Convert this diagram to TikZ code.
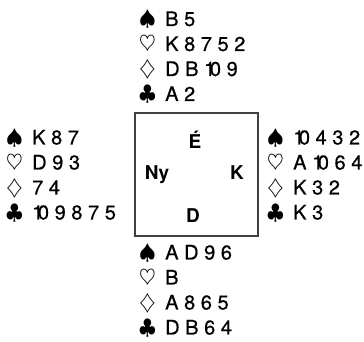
\RequirePackage{fix-cm}
\documentclass[tikz,border=0pt]{standalone}
\usepackage{fontspec}
\setmainfont{TeX Gyre Heros}[LetterSpace=28, FakeBold=0.6]
\newfontfamily\seatfont{TeX Gyre Heros}
\newcommand\suit[1]{\makebox[26pt][l]{\fontsize{21.5}{22}\selectfont$#1$}}
\newcommand\ten{1\kern-0.27em 0}
\begin{document}
\begin{tikzpicture}
 [x=1pt, y=1pt,
 cardrow/.style={anchor=base west, inner sep=0pt, text=black, font=\fontsize{20}{22}\selectfont},
 seatlabel/.style={anchor=base, inner sep=0pt, text=black, font=\seatfont\bfseries\fontsize{19}{22}\selectfont},
 tablebox/.style={rectangle, draw=black!75, line width=1.2pt, minimum width=123pt, minimum height=123pt, inner sep=0pt}
 ]
 \useasboundingbox (0,0) rectangle (364,342);
 \node at (196.5,167.5) [tablebox] (table) {};
 \node at (195,193.5) [seatlabel] (seatN) {É};
 \node at (157,162.5) [seatlabel] (seatW) {Ny};
 \node at (237,162.5) [seatlabel] (seatE) {K};
 \node at (193,119.5) [seatlabel] (seatS) {D};
 % north
 \node at (139,316) [cardrow] (n1) {\suit\spadesuit B5};
 \node at (139,291) [cardrow] (n2) {\suit\heartsuit K8752};
 \node at (139,266) [cardrow] (n3) {\suit\diamondsuit DB\ten9};
 \node at (139,241) [cardrow] (n4) {\suit\clubsuit A2};
 % west
 \node at (6,197.5) [cardrow] (w1) {\suit\spadesuit K87};
 \node at (6,172.5) [cardrow] (w2) {\suit\heartsuit D93};
 \node at (6,147.5) [cardrow] (w3) {\suit\diamondsuit 74};
 \node at (6,122.5) [cardrow] (w4) {\suit\clubsuit \ten9875};
 % east
 \node at (267,197.5) [cardrow] (e1) {\suit\spadesuit \ten432};
 \node at (267,172.5) [cardrow] (e2) {\suit\heartsuit A\ten64};
 \node at (267,147.5) [cardrow] (e3) {\suit\diamondsuit K32};
 \node at (267,122.5) [cardrow] (e4) {\suit\clubsuit K3};
 % south
 \node at (139,82.5) [cardrow] (s1) {\suit\spadesuit AD96};
 \node at (139,57.5) [cardrow] (s2) {\suit\heartsuit B};
 \node at (139,32.5) [cardrow] (s3) {\suit\diamondsuit A865};
 \node at (139,7.5) [cardrow] (s4) {\suit\clubsuit DB64};
\end{tikzpicture}
\end{document}
